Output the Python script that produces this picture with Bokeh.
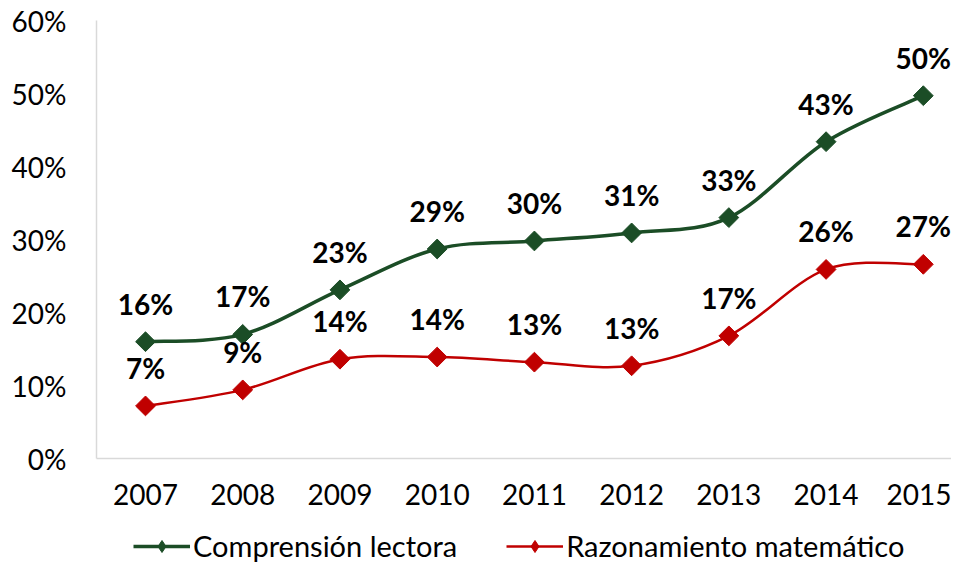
import numpy as np
from bokeh.plotting import figure
from bokeh.layouts import column
from bokeh.models import (Range1d, FixedTicker, NumeralTickFormatter, Legend, LegendItem,
                          ColumnDataSource)
from bokeh.embed import file_html
from bokeh.resources import INLINE

years = [2007, 2008, 2009, 2010, 2011, 2012, 2013, 2014, 2015]
comprension = [0.160, 0.170, 0.231, 0.287, 0.298, 0.309, 0.330, 0.434, 0.497]
razonamiento = [0.072, 0.094, 0.136, 0.139, 0.132, 0.127, 0.168, 0.259, 0.266]
y_ticks = [0, 0.1, 0.2, 0.3, 0.4, 0.5, 0.6]
series_names = ["Comprensión lectora", "Razonamiento matemático"]

GREEN = "#1b4d26"
RED = "#c00000"
FONT = "Lato"

p = figure(width=951, height=528, output_backend="svg", toolbar_location=None,
           x_range=Range1d(2006.496, 2015.29), y_range=Range1d(0, 0.6),
           min_border_left=96, min_border_right=0, min_border_top=20, min_border_bottom=70)
p.outline_line_color = None
p.xgrid.visible = False
p.ygrid.visible = False
p.background_fill_color = "white"
p.border_fill_color = "white"

for ax in (p.xaxis[0], p.yaxis[0]):
    ax.axis_line_color = "#d9d9d9"
    ax.axis_line_width = 1.5
    ax.major_tick_line_color = None
    ax.minor_tick_line_color = None
    ax.major_tick_out = 0
    ax.major_tick_in = 0
    ax.minor_tick_out = 0
    ax.major_label_text_font = FONT
    ax.major_label_text_font_size = "28px"
    ax.major_label_text_color = "#000000"

p.xaxis.ticker = FixedTicker(ticks=years)
p.xaxis.major_label_standoff = 25
p.yaxis.ticker = FixedTicker(ticks=y_ticks)
p.yaxis.formatter = NumeralTickFormatter(format="0%")
p.yaxis.major_label_standoff = 30


def smooth(xs, ys):
    x = np.array(xs, dtype=float)
    y = np.array(ys, dtype=float)
    n = len(x)
    i = np.arange(n - 1)
    im1 = np.maximum(i - 1, 0)
    i2 = np.minimum(i + 2, n - 1)
    return dict(
        x0=x[i], y0=y[i], x1=x[i + 1], y1=y[i + 1],
        cx0=x[i] + (x[i + 1] - x[im1]) / 6, cy0=y[i] + (y[i + 1] - y[im1]) / 6,
        cx1=x[i + 1] - (x[i2] - x[i]) / 6, cy1=y[i + 1] - (y[i2] - y[i]) / 6,
    )


# legend strip under the chart: its ranges do not include the data, so only the legend shows
lf = figure(width=951, height=35, output_backend="svg", toolbar_location=None,
            x_axis_type=None, y_axis_type=None, min_border=0,
            x_range=Range1d(0, 1), y_range=Range1d(0, 1))
lf.outline_line_color = None
lf.xgrid.visible = False
lf.ygrid.visible = False

items = []
for vals, color, lw, name in [(comprension, GREEN, 3.5, series_names[0]),
                              (razonamiento, RED, 2.5, series_names[1])]:
    p.bezier(source=ColumnDataSource(smooth(years, vals)),
             x0="x0", y0="y0", x1="x1", y1="y1",
             cx0="cx0", cy0="cy0", cx1="cx1", cy1="cy1",
             line_color=color, line_width=lw)
    p.scatter(years, vals, marker="square", angle=np.pi / 4, size=14,
              fill_color=color, line_color=color)
    labels = [f"{round(v * 100)}%" for v in vals]
    p.text(years, vals, text=labels, y_offset=-38, text_align="center",
           text_baseline="middle", text_font={"value": FONT}, text_font_style="bold",
           text_font_size="28px", text_color="black")
    lr = lf.line(years, vals, line_color=color, line_width=lw)
    sr = lf.scatter(years, vals, marker="diamond", size=20, fill_color=color, line_color=color)
    items.append(LegendItem(label=name, renderers=[lr, sr]))

legend = Legend(items=items, orientation="horizontal", location=(37, 0),
                label_text_font=FONT, label_text_font_size="29px",
                label_text_color="black", glyph_width=57, glyph_height=30,
                label_standoff=3, spacing=49, padding=0, margin=0,
                border_line_color=None, background_fill_alpha=0)
lf.add_layout(legend, "center")

layout = column(p, lf, spacing=0)
open("out.html", "w").write(file_html(layout, INLINE))
